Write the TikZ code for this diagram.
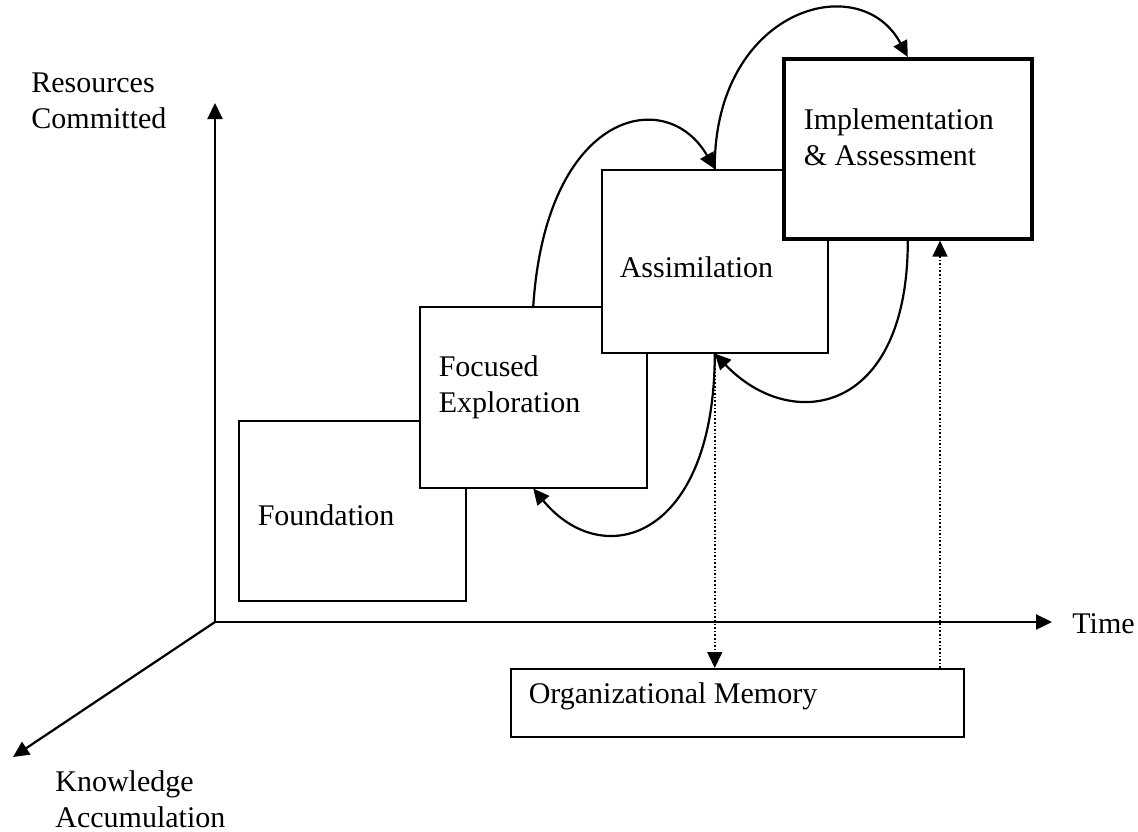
\documentclass[tikz,border=0pt]{standalone}
\usepackage{fontspec}
\setmainfont{Liberation Serif}
\usetikzlibrary{arrows.meta}

\tikzset{
  phase/.style={draw, line width=0.75pt, fill=white, anchor=north west, align=flush left,
    inner ysep=0pt, inner xsep=9.5pt, font=\fontsize{15}{18}\selectfont},
  axis/.style={line width=1.1pt, -{Triangle[length=8pt,width=7.5pt]}},
  flow/.style={line width=1.1pt, -{Triangle[length=8pt,width=7.5pt]}},
  link/.style={line width=0.8pt, densely dotted, -{Triangle[length=8pt,width=7.5pt]}},
  lbl/.style={align=flush left, anchor=base west, inner sep=0pt, font=\fontsize{15}{18}\selectfont}
}

\begin{document}
\begin{tikzpicture}[x=0.5pt,y=-0.5pt]
	\useasboundingbox (0,0) rectangle (1138,831);
	% axes
	\coordinate (o) at (215,622);
	\coordinate (rtop) at (215,103);
	\coordinate (tend) at (1052,622);
	\coordinate (kend) at (13,757);
	\draw[axis] (o) -- (rtop);
	\draw[axis] (o) -- (tend);
	\draw[axis] (o) -- (kend);
	\node[lbl] (rlab) at (31,128) {Resources\\Committed};
	\node[lbl] (tlab) at (1072,633) {Time};
	\node[lbl] (klab) at (55,827) {Knowledge\\Accumulation};
	% phases
	\node[phase, text width=94.5pt, text height=52.5pt, text depth=37.5pt] (found) at (238,420) {Foundation};
	\node[phase, text width=94.5pt, text height=35pt, text depth=55.5pt] (focus) at (419,306) {Focused\\Exploration};
	\node[phase, inner xsep=9pt, text width=95pt, text height=54pt, text depth=37.5pt] (assim) at (601,169) {Assimilation};
	\node[phase, line width=1.8pt, inner xsep=10pt, text width=104pt, text height=35.5pt, text depth=54.5pt] (impl) at (782,57) {Implementation\\\& Assessment};
	\node[phase, inner xsep=9pt, text width=208.5pt, text height=17.5pt, text depth=16.5pt] (memory) at (510,668) {Organizational Memory};
	% loops between phases
	\draw[flow] (focus.north) .. controls +(13,-196) and +(-48,-84) .. (assim.north);
	\draw[flow] (assim.north) .. controls +(-1,-160) and +(-48,-90) .. (impl.north);
	\draw[flow] (impl.south) .. controls +(0,175) and +(76,80) .. (assim.south);
	\draw[flow] (assim.south) .. controls +(0,185) and +(70,85) .. (focus.south);
	% memory
	\coordinate (mem2) at (940,668);
	\draw[link] (assim.south) -- (assim.south |- memory.north);
	\draw[link] (mem2) -- (mem2 |- impl.south);
\end{tikzpicture}
\end{document}
